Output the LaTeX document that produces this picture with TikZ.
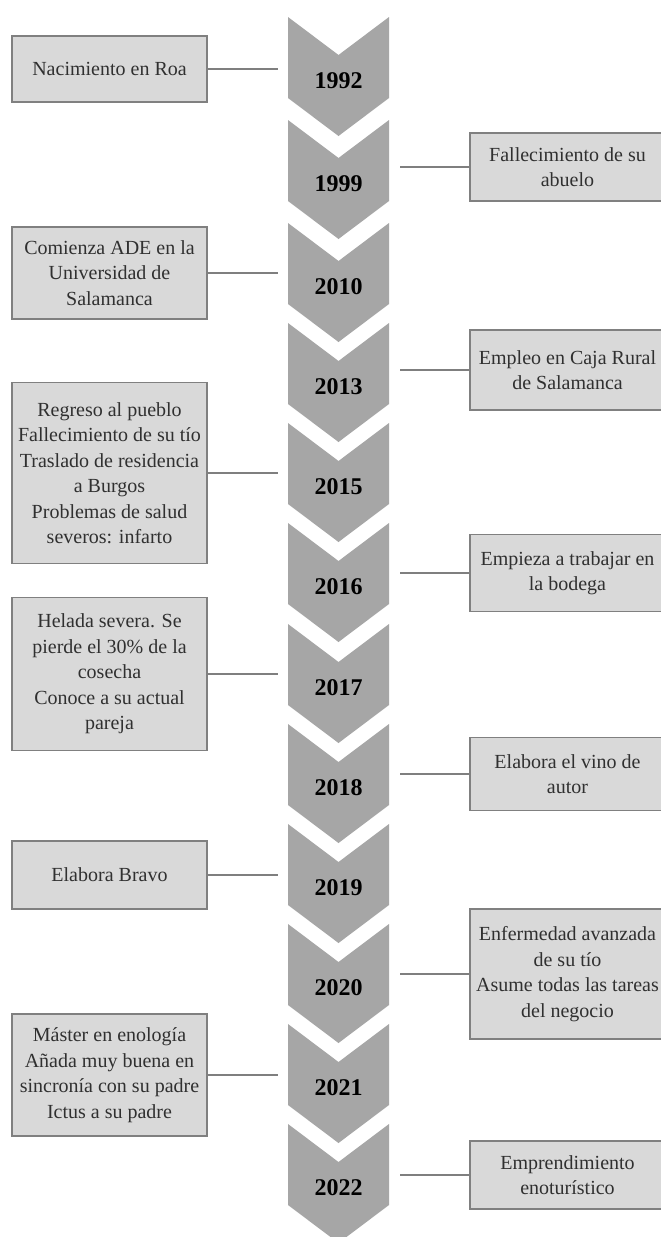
\documentclass[tikz,border=0pt]{standalone}
\usepackage{fontspec}
\setmainfont{Liberation Serif}
\definecolor{chevfill}{HTML}{A6A6A6}
\definecolor{boxfill}{HTML}{D9D9D9}
\definecolor{boxline}{HTML}{808080}
\definecolor{linkcol}{HTML}{7F7F7F}
\definecolor{textcol}{HTML}{303030}
\begin{document}
\begin{tikzpicture}[x=0.5pt,y=-0.5pt,
  event/.style={draw=boxline, fill=boxfill, line width=0.6pt,
    minimum width=97.5pt, align=center, inner sep=0pt, text=textcol,
    font=\fontsize{10}{12.75}\selectfont},
  yearlabel/.style={font=\fontsize{12}{14}\selectfont\bfseries, text=black},
  chevron/.style={fill=chevfill, draw=none},
  link/.style={draw=linkcol, line width=0.7pt}]

% page frame
\fill[white] (0,0) rectangle (660,1237);
\useasboundingbox (0,0) rectangle (660,1237);

% junction lines where connectors stop short of the arrows
\coordinate (jl) at (278,0);
\coordinate (jr) at (400,0);

% chevron column with year labels
\begin{scope}
\clip (0,0) rectangle (660,1237);
\foreach \t/\yr in {17/1992,120/1999,223/2010,323/2013,423/2015,523/2016,
                    624/2017,724/2018,824/2019,924/2020,1024/2021,1124/2022}{
  \path[chevron] (288,\t) -- (338.5,\t+38) -- (389,\t) -- (389,\t+81)
     -- (338.5,\t+119) -- (288,\t+81) -- cycle;
  \node[yearlabel] (y\yr) at (338.5,\t+64) {\yr};
}
\end{scope}

% events on the left
\node[event, minimum height=33pt] (e1992) at (109.5,69) {Nacimiento en Roa};
\node[event, minimum height=46pt] (e2010) at (109.5,273) {Comienza ADE en la\\Universidad de\\Salamanca};
\node[event, minimum height=90.5pt] (e2015) at (109.5,473) {Regreso al pueblo\\Fallecimiento de su tío\\Traslado de residencia\\a Burgos\\Problemas de salud\\severos: infarto};
\node[event, minimum height=76.5pt] (e2017) at (109.5,674) {Helada severa. Se\\pierde el 30\% de la\\cosecha\\Conoce a su actual\\pareja};
\node[event, minimum height=34pt] (e2019) at (109.5,875) {Elabora Bravo};
\node[event, minimum height=61pt] (e2021) at (109.5,1075) {Máster en enología\\Añada muy buena en\\sincronía con su padre\\Ictus a su padre};

% events on the right
\node[event, minimum height=34pt] (e1999) at (567.5,167) {Fallecimiento de su\\abuelo};
\node[event, minimum height=40pt] (e2013) at (567.5,370) {Empleo en Caja Rural\\de Salamanca};
\node[event, minimum height=38.5pt] (e2016) at (567.5,573) {Empieza a trabajar en\\la bodega};
\node[event, minimum height=36.5pt] (e2018) at (567.5,774) {Elabora el vino de\\autor};
\node[event, minimum height=65pt] (e2020) at (567.5,974) {Enfermedad avanzada\\de su tío\\Asume todas las tareas\\del negocio};
\node[event, minimum height=34pt] (e2022) at (567.5,1175) {Emprendimiento\\enoturístico};

% connectors
\foreach \yr in {1992,2010,2015,2017,2019,2021}
  \draw[link] (e\yr.east) -- (e\yr.east -| jl);
\foreach \yr in {1999,2013,2016,2018,2020,2022}
  \draw[link] (e\yr.west) -- (e\yr.west -| jr);
\end{tikzpicture}
\end{document}
